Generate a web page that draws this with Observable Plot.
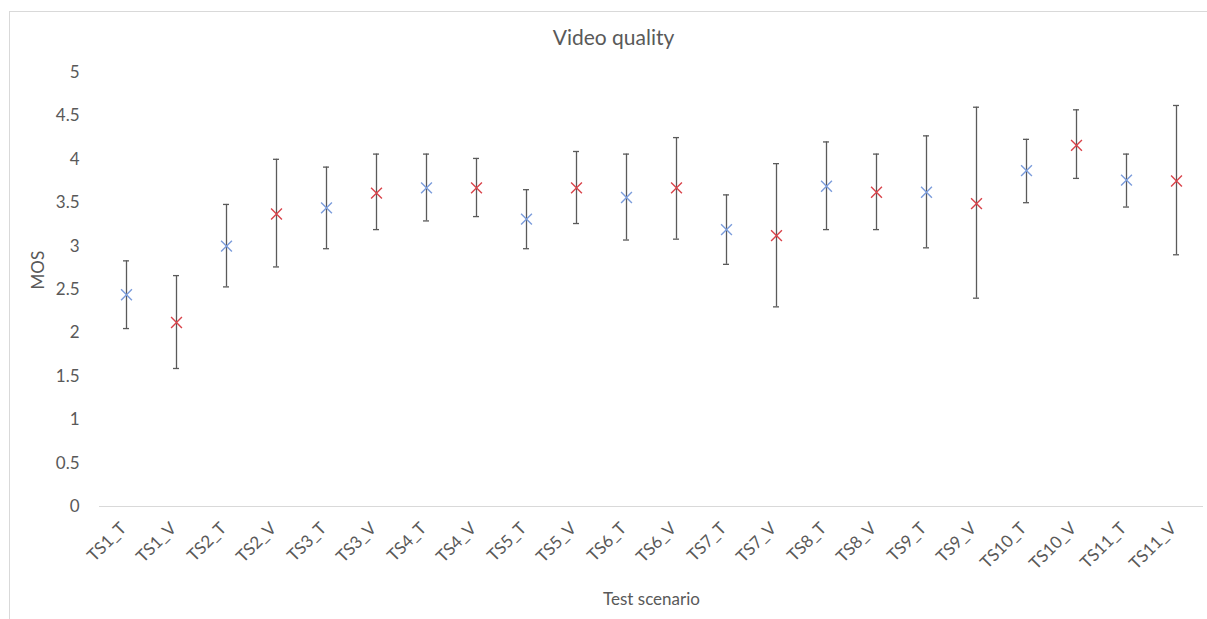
<!DOCTYPE html>
<html>
<head>
<meta charset="utf-8">
<script src="https://cdn.jsdelivr.net/npm/d3@7"></script>
<script src="https://cdn.jsdelivr.net/npm/@observablehq/plot@0.6"></script>
<style>
  html, body { margin: 0; padding: 0; background: #fff; }
  #wrap { position: relative; width: 1207px; height: 619px; overflow: hidden; }
  #frame { position: absolute; left: 9px; top: 11px; width: 1300px; height: 700px;
           border-left: 1px solid #d9d9d9; border-top: 1px solid #d9d9d9; }
  #chart { position: absolute; left: 0; top: 0; }
</style>
</head>
<body>
<div id="wrap"><div id="frame"></div><div id="chart"></div></div>
<script>
const scenarios = ["TS1_T","TS1_V","TS2_T","TS2_V","TS3_T","TS3_V","TS4_T","TS4_V","TS5_T","TS5_V","TS6_T","TS6_V",
                   "TS7_T","TS7_V","TS8_T","TS8_V","TS9_T","TS9_V","TS10_T","TS10_V","TS11_T","TS11_V"];
const mos    = [2.44, 2.12, 3.00, 3.37, 3.44, 3.61, 3.67, 3.67, 3.31, 3.67, 3.56, 3.67,
                3.19, 3.12, 3.69, 3.62, 3.62, 3.49, 3.87, 4.16, 3.76, 3.75];
const ciLow  = [2.05, 1.59, 2.53, 2.76, 2.97, 3.19, 3.29, 3.34, 2.97, 3.26, 3.07, 3.08,
                2.79, 2.30, 3.19, 3.19, 2.98, 2.40, 3.50, 3.78, 3.45, 2.90];
const ciHigh = [2.83, 2.66, 3.48, 4.00, 3.91, 4.06, 4.06, 4.01, 3.65, 4.09, 4.06, 4.25,
                3.59, 3.95, 4.20, 4.06, 4.27, 4.60, 4.23, 4.57, 4.06, 4.62];
const kinds  = ["T", "V"];
const kindColors = ["#7b9cdb", "#d9434a"];
const yTicks = [0, 0.5, 1, 1.5, 2, 2.5, 3, 3.5, 4, 4.5, 5];

const data = scenarios.map((s, i) => ({
  scenario: s, mos: mos[i], low: ciLow[i], high: ciHigh[i],
  kind: s.endsWith("_T") ? "T" : "V"
}));

const font = "Lato, 'Open Sans', sans-serif";
const chart = Plot.plot({
  width: 1207,
  height: 619,
  marginTop: 72,
  marginBottom: 113,
  marginLeft: 99,
  marginRight: 4,
  style: { fontFamily: font, fontSize: "17px", color: "#595959", background: "transparent" },
  x: { domain: scenarios, padding: 0 },
  y: { domain: [0, 5] },
  color: { domain: kinds, range: kindColors },
  marks: [
    Plot.ruleY([0], { stroke: "#d9d9d9", strokeWidth: 1.2 }),
    Plot.axisY({ ticks: yTicks, tickSize: 0, tickPadding: 20, tickFormat: d => String(d),
                 label: null, fill: "#595959", fontSize: 17 }),
    Plot.axisX({ tickSize: 0, tickPadding: 19, tickRotate: -45, dx: -3, label: null,
                 fill: "#595959", fontSize: 17 }),
    Plot.ruleX(data, { x: "scenario", y1: "low", y2: "high", stroke: "#5a5a5a", strokeWidth: 1.3 }),
    Plot.tickY(data, { x: "scenario", y: "low", stroke: "#5a5a5a", strokeWidth: 1.3, insetLeft: 22, insetRight: 22 }),
    Plot.tickY(data, { x: "scenario", y: "high", stroke: "#5a5a5a", strokeWidth: 1.3, insetLeft: 22, insetRight: 22 }),
    Plot.dot(data, { x: "scenario", y: "mos", symbol: "times", r: 5, stroke: "kind", strokeWidth: 1.4 }),
    Plot.text(["Video quality"], { frameAnchor: "top", dx: -38, dy: -42, fontSize: 21, fill: "#595959" }),
    Plot.text(["Test scenario"], { frameAnchor: "bottom", dy: 98, fontSize: 17, fill: "#595959" }),
    Plot.text(["MOS"], { frameAnchor: "left", dx: -61, rotate: -90, fontSize: 17, fill: "#595959" })
  ]
});
document.getElementById("chart").appendChild(chart);
</script>
</body>
</html>
